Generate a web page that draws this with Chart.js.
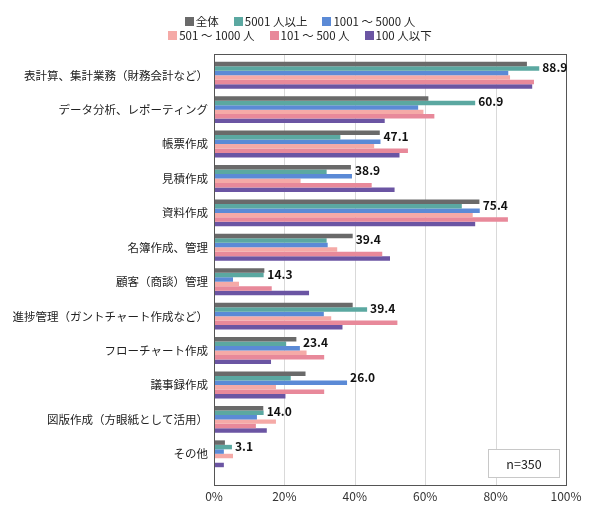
<!DOCTYPE html>
<html><head><meta charset="utf-8">
<script src="https://cdn.jsdelivr.net/npm/chart.js@4.4.1/dist/chart.umd.min.js"></script>
<style>html,body{margin:0;padding:0;background:#fff}#wrap{width:590px;height:511px;position:relative}</style>
</head><body><div id="wrap"><canvas id="c"></canvas></div>
<script>
const categories = ['表計算、集計業務（財務会計など）','データ分析、レポーティング','帳票作成','見積作成','資料作成','名簿作成、管理','顧客（商談）管理','進捗管理（ガントチャート作成など）','フローチャート作成','議事録作成','図版作成（方眼紙として活用）','その他'];
const seriesNames = ['全体','5001 人以上','1001 ～ 5000 人','501 ～ 1000 人','101 ～ 500 人','100 人以下'];
const valuesAll  = [88.9,60.9,47.1,38.9,75.4,39.4,14.3,39.4,23.4,26.0,14.0,3.1];
const values5001 = [92.4,74.2,35.9,32.0,70.4,32.0,14.1,43.5,20.5,21.8,14.1,5.1];
const values1001 = [83.6,58.0,47.3,39.2,75.5,32.3,5.4,31.2,24.4,37.8,12.2,2.8];
const values501  = [84.1,59.5,45.5,24.6,73.5,35.0,7.1,33.3,26.3,17.6,17.6,5.4];
const values101  = [90.9,62.6,55.1,44.8,83.5,47.8,16.4,52.1,31.3,31.3,11.9,0];
const values100  = [90.4,48.5,52.7,51.3,74.2,50.0,27.0,36.5,16.2,20.3,15.0,2.8];
const xTicks = [0,20,40,60,80,100];
const sampleNote = 'n=350';

const FONT = "'Noto Sans CJK JP', 'Noto Sans', sans-serif";
const colors = ['#6a6a6a','#5ba8a1','#5b8ad6','#f5aaa7','#e8899a','#6b55a3'];
const seriesValues = [valuesAll, values5001, values1001, values501, values101, values100];

const decor = {
  id: 'decor',
  beforeDatasetsDraw(chart) {
    const {ctx, chartArea: a, scales: {x}} = chart;
    const top = a.top - 4, bottom = a.bottom + 14;
    ctx.save();
    ctx.strokeStyle = '#d9d9d9'; ctx.lineWidth = 1;
    xTicks.forEach(v => {
      if (v === xTicks[0] || v === xTicks[xTicks.length - 1]) return;
      const px = Math.round(x.getPixelForValue(v)) + 0.5;
      ctx.beginPath(); ctx.moveTo(px, top); ctx.lineTo(px, bottom); ctx.stroke();
    });
    ctx.restore();
  },
  afterDatasetsDraw(chart) {
    const {ctx, chartArea: a, scales: {x}} = chart;
    const top = Math.round(a.top - 4) + 0.5, bottom = Math.round(a.bottom + 14) + 0.5;
    const left = Math.round(x.getPixelForValue(xTicks[0])) + 0.5;
    const right = Math.round(x.getPixelForValue(xTicks[xTicks.length - 1])) + 0.5;
    ctx.save();
    ctx.strokeStyle = '#555'; ctx.lineWidth = 1;
    ctx.strokeRect(left, top, right - left, bottom - top);

    // value labels for 全体
    ctx.fillStyle = '#111';
    ctx.font = "bold 12px " + FONT;
    ctx.textAlign = 'left'; ctx.textBaseline = 'middle';
    categories.forEach((c, i) => {
      const m0 = chart.getDatasetMeta(0).data[i];
      const m1 = chart.getDatasetMeta(1).data[i];
      const m2 = chart.getDatasetMeta(2).data[i];
      const lx = Math.max(m0.x, m1.x, m2.x) + 3;
      const ly = m1.y - 1;
      ctx.fillText(valuesAll[i].toFixed(1), lx, ly);
    });

    // n box
    const bw = 71, bh = 28;
    const bx = Math.round(right - 8 - bw) + 0.5, by = Math.round(bottom - 9 - bh) + 0.5;
    ctx.fillStyle = '#fff'; ctx.fillRect(bx, by, bw, bh);
    ctx.strokeStyle = '#c8c8c8'; ctx.strokeRect(bx, by, bw, bh);
    ctx.fillStyle = '#222'; ctx.font = "12.5px " + FONT; ctx.textAlign = 'center';
    ctx.fillText(sampleNote, bx + bw / 2, by + bh / 2 + 1);

    // legend
    const rows = [[0,1,2],[3,4,5]];
    const rowY = [21, 35];
    const cx = 300, box = 9, tg = 2, gap = 15;
    ctx.font = "11.5px " + FONT; ctx.textAlign = 'left'; ctx.textBaseline = 'middle';
    rows.forEach((r, ri) => {
      const widths = r.map(k => box + tg + ctx.measureText(seriesNames[k]).width);
      const total = widths.reduce((s, w) => s + w, 0) + gap * (r.length - 1);
      let xx = cx - total / 2;
      r.forEach((k, j) => {
        ctx.fillStyle = colors[k];
        ctx.fillRect(Math.round(xx), Math.round(rowY[ri] - box / 2), box, box);
        ctx.fillStyle = '#222';
        ctx.fillText(seriesNames[k], xx + box + tg, rowY[ri] + 0.5);
        xx += widths[j] + gap;
      });
    });
    ctx.restore();
  }
};

new Chart(document.getElementById('c'), {
  type: 'bar',
  data: {
    labels: categories,
    datasets: seriesNames.map((n, k) => ({
      label: n, data: seriesValues[k], backgroundColor: colors[k], borderWidth: 0,
      categoryPercentage: 0.78, barPercentage: 1.0
    }))
  },
  options: {
    responsive: true, maintainAspectRatio: false, animation: false,
    indexAxis: 'y',
    layout: {padding: {left: 10, right: 24, top: 58, bottom: 0}},
    plugins: {legend: {display: false}, tooltip: {enabled: false}},
    scales: {
      x: {
        min: 0, max: 100,
        afterBuildTicks: s => { s.ticks = xTicks.map(v => ({value: v})); },
        ticks: {callback: v => v + '%', font: {size: 12, family: FONT}, color: '#333', padding: 18, maxRotation: 0},
        grid: {display: false, drawTicks: false},
        border: {display: false},
        afterFit: s => { s.height = 40; s.paddingLeft = 0; s.paddingRight = 0; }
      },
      y: {
        ticks: {font: {size: 11.5, family: FONT}, color: '#222', padding: 6, autoSkip: false},
        grid: {display: false, drawTicks: false},
        border: {display: false},
        afterFit: s => { s.width = 204; s.paddingTop = 0; s.paddingBottom = 0; }
      }
    }
  },
  plugins: [decor]
});
</script>
</body></html>
